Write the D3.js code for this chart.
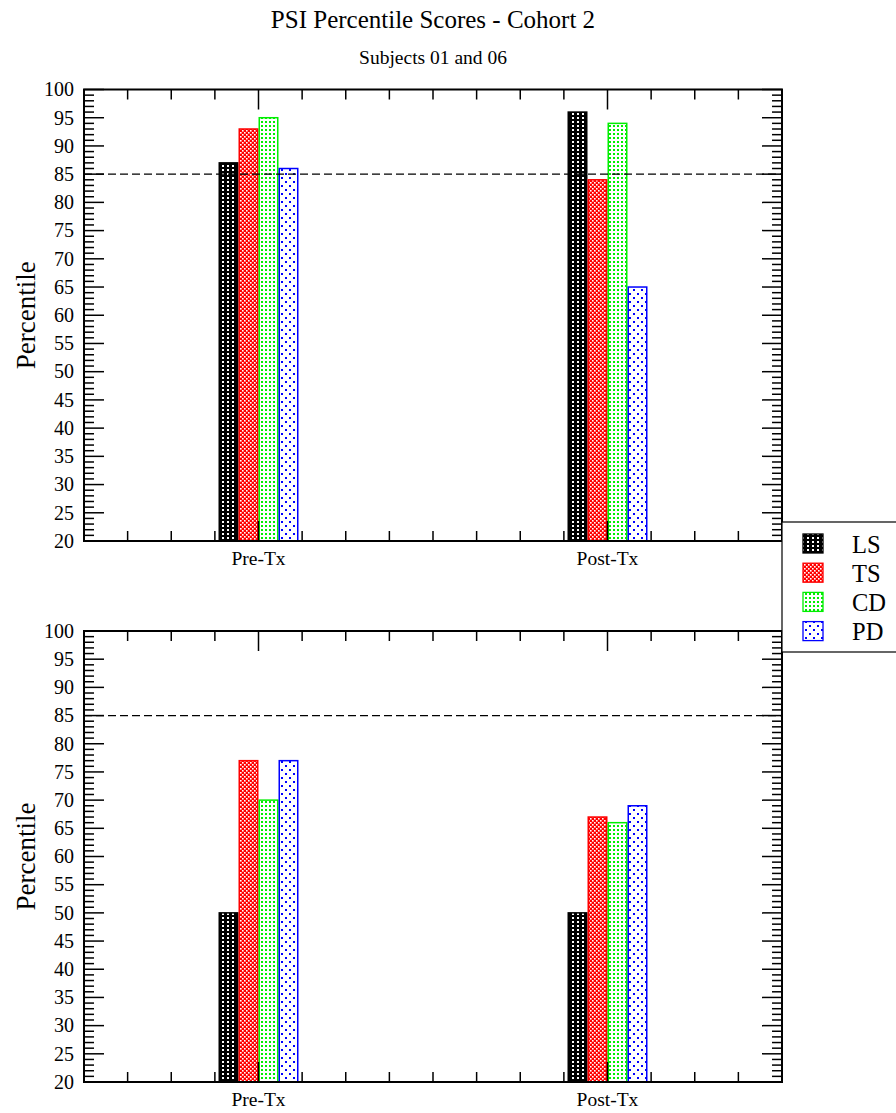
<!DOCTYPE html>
<html>
<head>
<meta charset="utf-8">
<script src="https://cdn.jsdelivr.net/npm/d3@7"></script>
<style>
  html, body { margin: 0; padding: 0; background: #fff; }
  svg { display: block; font-family: "Liberation Serif", "Times New Roman", serif; }
</style>
</head>
<body>
<svg id="chart" width="896" height="1113"></svg>
<script>
// PSI percentile scores, cohort 2 — one panel per subject
const categories = ["Pre-Tx", "Post-Tx"];
const series = ["LS", "TS", "CD", "PD"];
const seriesColors = ["#000000", "#ff0000", "#00ee00", "#0000ff"];
const subject01 = [[87, 93, 95, 86], [96, 84, 94, 65]];
const subject06 = [[50, 77, 70, 77], [50, 67, 66, 69]];
const yTicks = [20, 25, 30, 35, 40, 45, 50, 55, 60, 65, 70, 75, 80, 85, 90, 95, 100];
const cutoff = 85;

const svg = d3.select("#chart");
const defs = svg.append("defs");

// Fill patterns for each series
function makePattern(id, w, h, bg, dots, dotColor, size) {
  const p = defs.append("pattern").attr("id", id)
    .attr("patternUnits", "userSpaceOnUse").attr("width", w).attr("height", h);
  p.append("rect").attr("width", w).attr("height", h).attr("fill", bg);
  dots.forEach(([x, y]) => p.append("rect").attr("x", x).attr("y", y)
    .attr("width", size).attr("height", size).attr("fill", dotColor));
}
makePattern("pat-LS", 5, 4, "#000", [[2, 1]], "#fff", 2);
makePattern("pat-TS", 4, 4, "#ff0000", [[0, 0], [2, 2]], "#fff", 1.6);
makePattern("pat-CD", 4, 4, "#fff", [[1, 1]], "#00ee00", 2);
makePattern("pat-PD", 8, 8, "#fff", [[1, 1], [5, 5]], "#0000ff", 2);

const left = 84, right = 782;
const x = d3.scaleLinear().domain([0, categories.length]).range([left, right]);
const catScale = d3.scaleBand().domain(categories).range([left, right]);
const groupHalf = 40;

// Title
svg.append("text").attr("x", (left + right) / 2).attr("y", 28)
  .attr("text-anchor", "middle").attr("font-size", 25).text("PSI Percentile Scores - Cohort 2");
svg.append("text").attr("x", (left + right) / 2).attr("y", 64)
  .attr("text-anchor", "middle").attr("font-size", 19.5).text("Subjects 01 and 06");

function panel(top, bottom, data) {
  const g = svg.append("g");
  const y = d3.scaleLinear().domain([20, 100]).range([bottom, top]);

  // bars
  categories.forEach((cat, ci) => {
    const center = catScale(cat) + catScale.bandwidth() / 2;
    const inner = d3.scaleBand().domain(series).range([center - groupHalf, center + groupHalf]);
    series.forEach((s, si) => {
      const v = data[ci][si];
      g.append("rect")
        .attr("x", inner(s) + 0.75)
        .attr("y", y(v))
        .attr("width", inner.bandwidth() - 1.5)
        .attr("height", y(20) - y(v))
        .attr("fill", `url(#pat-${s})`)
        .attr("stroke", seriesColors[si])
        .attr("stroke-width", 1.5);
    });
  });

  // cutoff line
  g.append("line").attr("x1", left).attr("x2", right)
    .attr("y1", y(cutoff)).attr("y2", y(cutoff))
    .attr("stroke", "#000").attr("stroke-width", 1.3).attr("stroke-dasharray", "8,4");

  // y ticks (minor every 1, major every 5) on both sides, pointing inward
  const minorY = d3.range(20, 101, 1);
  const tickG = g.append("g").attr("stroke", "#000").attr("stroke-width", 1.5);
  minorY.forEach(v => {
    const len = v % 5 === 0 ? 20 : 10;
    tickG.append("line").attr("x1", left).attr("x2", left + len).attr("y1", y(v)).attr("y2", y(v));
    tickG.append("line").attr("x1", right).attr("x2", right - len).attr("y1", y(v)).attr("y2", y(v));
  });
  // x ticks
  const xTicks = d3.range(0, categories.length * 8 + 1).map(k => k / 8);
  xTicks.forEach(t => {
    const isMajor = Math.abs((t % 1) - 0.5) < 1e-6;
    const len = isMajor ? 20 : 10;
    tickG.append("line").attr("x1", x(t)).attr("x2", x(t)).attr("y1", bottom).attr("y2", bottom - len);
    tickG.append("line").attr("x1", x(t)).attr("x2", x(t)).attr("y1", top).attr("y2", top + len);
  });

  // frame
  g.append("rect").attr("x", left).attr("y", top).attr("width", right - left).attr("height", bottom - top)
    .attr("fill", "none").attr("stroke", "#000").attr("stroke-width", 2);

  // y tick labels
  g.selectAll("text.ytl").data(yTicks).join("text").attr("class", "ytl")
    .attr("x", left - 10).attr("y", d => y(d)).attr("dy", "0.34em")
    .attr("text-anchor", "end").attr("font-size", 20).text(d => d);

  // category labels
  categories.forEach(cat => {
    g.append("text").attr("x", catScale(cat) + catScale.bandwidth() / 2).attr("y", bottom + 24)
      .attr("text-anchor", "middle").attr("font-size", 19.5).text(cat);
  });

  // axis title
  g.append("text").attr("transform", `translate(35,${(top + bottom) / 2}) rotate(-90)`)
    .attr("text-anchor", "middle").attr("font-size", 27).text("Percentile");
}

panel(89.5, 541, subject01);
panel(631, 1082, subject06);

// legend
const lg = svg.append("g");
lg.append("rect").attr("x", 782).attr("y", 522).attr("width", 130).attr("height", 130)
  .attr("fill", "#fff").attr("stroke", "#000").attr("stroke-width", 1.2);
series.forEach((s, i) => {
  const yy = 534 + i * 29.2;
  lg.append("rect").attr("x", 803).attr("y", yy).attr("width", 20).attr("height", 19)
    .attr("fill", `url(#pat-${s})`).attr("stroke", seriesColors[i]).attr("stroke-width", 1.3);
  lg.append("text").attr("x", 852).attr("y", yy + 18.5).attr("font-size", 24.5).text(s);
});
</script>
</body>
</html>
